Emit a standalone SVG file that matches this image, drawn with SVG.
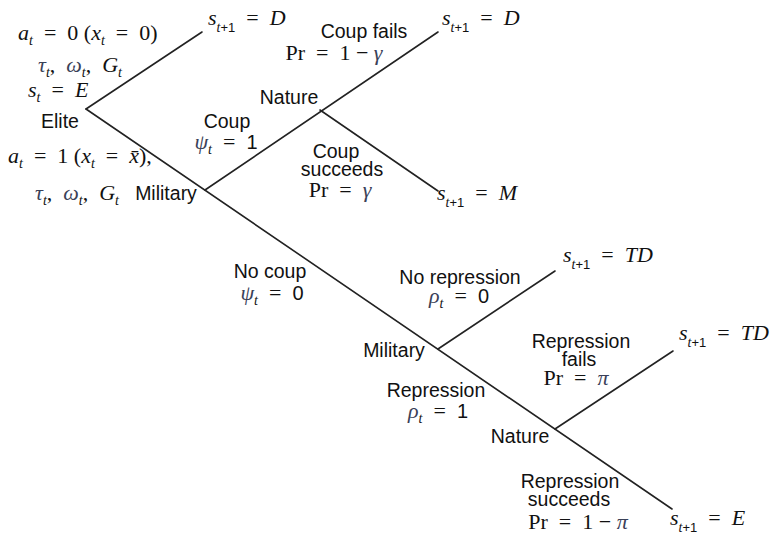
<svg xmlns="http://www.w3.org/2000/svg" width="779" height="536" viewBox="0 0 779 536">
<style>
.bg{fill:#fff}
.edge{stroke:#222;stroke-width:1.6;fill:none;stroke-linecap:round}
.lab{font-family:"Liberation Sans",Arial,sans-serif;font-size:19.5px;fill:#111}
.m{font-family:"Liberation Serif","Times New Roman",serif;font-size:22px;fill:#111}
.v{font-style:italic}
.sub{font-size:14px;font-style:italic}
.subn{font-family:"Liberation Sans",Arial,sans-serif;font-size:13px;font-style:normal}
.num{font-family:"Liberation Sans",Arial,sans-serif;font-size:20px;font-style:normal}
.g{fill:#3a4158;font-style:italic}
.mid{text-anchor:middle}
</style>
<rect class="bg" x="0" y="0" width="779" height="536"/>
<g id="connectors">
<line class="edge" x1="86" y1="109" x2="202" y2="32"/>
<line class="edge" x1="86" y1="109" x2="672" y2="509"/>
<line class="edge" x1="205" y1="190" x2="438" y2="32"/>
<line class="edge" x1="320" y1="110" x2="438" y2="191"/>
<line class="edge" x1="438" y1="349" x2="555" y2="271"/>
<line class="edge" x1="555" y1="429" x2="673" y2="351"/>
</g>
<g id="elite">
<text class="m" x="18" y="40"><tspan class="v">a</tspan><tspan class="sub" dy="5">t</tspan><tspan dy="-5">&#8194;=&#8194;0 (</tspan><tspan class="v">x</tspan><tspan class="sub" dy="5">t</tspan><tspan dy="-5">&#8194;=&#8194;0)</tspan></text>
<text class="m" x="38" y="72"><tspan class="g">τ</tspan><tspan class="sub" dy="5">t</tspan><tspan dy="-5">,&#8194;</tspan><tspan class="g">ω</tspan><tspan class="sub" dy="5">t</tspan><tspan dy="-5">,&#8194;</tspan><tspan class="v">G</tspan><tspan class="sub" dy="5">t</tspan></text>
<text class="m" x="28" y="97"><tspan class="v">s</tspan><tspan class="sub" dy="5">t</tspan><tspan dy="-5">&#8194;=&#8194;</tspan><tspan class="v">E</tspan></text>
<text class="lab" x="60" y="128" text-anchor="middle">Elite</text>
<text class="m" x="8" y="163"><tspan class="v">a</tspan><tspan class="sub" dy="5">t</tspan><tspan dy="-5">&#8194;=&#8194;1 (</tspan><tspan class="v">x</tspan><tspan class="sub" dy="5">t</tspan><tspan dy="-5">&#8194;=&#8194;</tspan><tspan class="v">x&#772;</tspan><tspan>),</tspan></text>
<text class="m" x="35" y="200"><tspan class="g">τ</tspan><tspan class="sub" dy="5">t</tspan><tspan dy="-5">,&#8194;</tspan><tspan class="g">ω</tspan><tspan class="sub" dy="5">t</tspan><tspan dy="-5">,&#8194;</tspan><tspan class="v">G</tspan><tspan class="sub" dy="5">t</tspan></text>
</g>
<g id="outcome-d1">
<text class="m" x="208" y="25"><tspan class="v">s</tspan><tspan class="sub" dy="7">t</tspan><tspan class="subn">+1</tspan><tspan dy="-7">&#8194;=&#8194;</tspan><tspan class="v">D</tspan></text>
</g>
<g id="military1">
<text class="lab" x="166" y="200" text-anchor="middle">Military</text>
<text class="lab mid" x="227" y="128">Coup</text>
<text class="m mid" x="226" y="149"><tspan class="g">ψ</tspan><tspan class="sub" dy="5">t</tspan><tspan dy="-5">&#8194;=&#8194;</tspan><tspan class="num">1</tspan></text>
<text class="lab mid" x="270" y="278">No coup</text>
<text class="m mid" x="272" y="300"><tspan class="g">ψ</tspan><tspan class="sub" dy="5">t</tspan><tspan dy="-5">&#8194;=&#8194;</tspan><tspan class="num">0</tspan></text>
</g>
<g id="nature1">
<text class="lab mid" x="289" y="104">Nature</text>
<text class="lab mid" x="364" y="38">Coup fails</text>
<text class="m mid" x="334" y="60">Pr&#8194;=&#8194;1 − <tspan class="g">γ</tspan></text>
<text class="lab mid" x="336" y="158">Coup</text>
<text class="lab mid" x="342" y="176">succeeds</text>
<text class="m mid" x="340" y="197">Pr&#8194;=&#8194;<tspan class="g">γ</tspan></text>
</g>
<g id="outcome-d2">
<text class="m" x="442" y="25"><tspan class="v">s</tspan><tspan class="sub" dy="7">t</tspan><tspan class="subn">+1</tspan><tspan dy="-7">&#8194;=&#8194;</tspan><tspan class="v">D</tspan></text>
</g>
<g id="outcome-m">
<text class="m" x="437" y="200"><tspan class="v">s</tspan><tspan class="sub" dy="7">t</tspan><tspan class="subn">+1</tspan><tspan dy="-7">&#8194;=&#8194;</tspan><tspan class="v">M</tspan></text>
</g>
<g id="military2">
<text class="lab mid" x="394" y="357">Military</text>
<text class="lab mid" x="460" y="284">No repression</text>
<text class="m mid" x="459" y="303"><tspan class="g">ρ</tspan><tspan class="sub" dy="5">t</tspan><tspan dy="-5">&#8194;=&#8194;</tspan><tspan class="num">0</tspan></text>
<text class="lab mid" x="436" y="397">Repression</text>
<text class="m mid" x="438" y="418"><tspan class="g">ρ</tspan><tspan class="sub" dy="5">t</tspan><tspan dy="-5">&#8194;=&#8194;</tspan><tspan class="num">1</tspan></text>
</g>
<g id="outcome-td1">
<text class="m" x="563" y="262"><tspan class="v">s</tspan><tspan class="sub" dy="7">t</tspan><tspan class="subn">+1</tspan><tspan dy="-7">&#8194;=&#8194;</tspan><tspan class="v">TD</tspan></text>
</g>
<g id="nature2">
<text class="lab mid" x="520" y="443">Nature</text>
<text class="lab mid" x="581" y="348">Repression</text>
<text class="lab mid" x="579" y="366">fails</text>
<text class="m mid" x="576" y="385">Pr&#8194;=&#8194;<tspan class="g">π</tspan></text>
<text class="lab mid" x="570" y="488">Repression</text>
<text class="lab mid" x="569" y="506">succeeds</text>
<text class="m mid" x="578" y="529">Pr&#8194;=&#8194;1 − <tspan class="g">π</tspan></text>
</g>
<g id="outcome-td2">
<text class="m" x="679" y="340"><tspan class="v">s</tspan><tspan class="sub" dy="7">t</tspan><tspan class="subn">+1</tspan><tspan dy="-7">&#8194;=&#8194;</tspan><tspan class="v">TD</tspan></text>
</g>
<g id="outcome-e">
<text class="m" x="670" y="525"><tspan class="v">s</tspan><tspan class="sub" dy="7">t</tspan><tspan class="subn">+1</tspan><tspan dy="-7">&#8194;=&#8194;</tspan><tspan class="v">E</tspan></text>
</g>
</svg>
